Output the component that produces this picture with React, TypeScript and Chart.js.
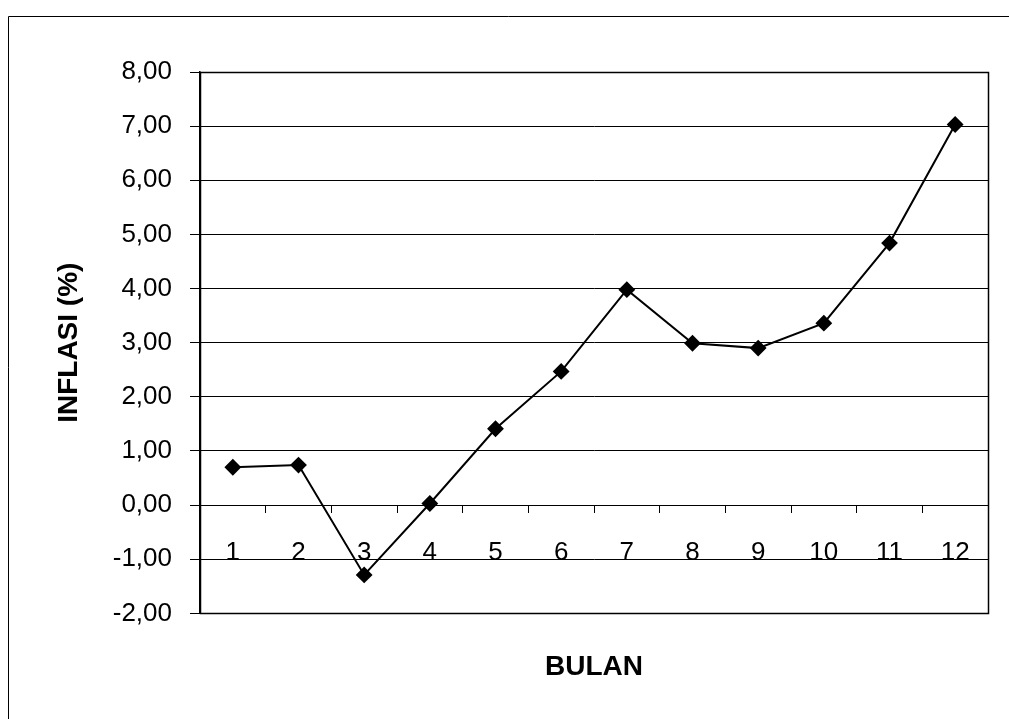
import React, { useEffect, useRef } from "react";
import { Chart, registerables } from "chart.js";

Chart.register(...registerables);

const months: string[] = ["1", "2", "3", "4", "5", "6", "7", "8", "9", "10", "11", "12"];
const inflation: number[] = [0.7, 0.74, -1.29, 0.03, 1.41, 2.47, 3.98, 2.99, 2.9, 3.36, 4.84, 7.03];
const yMin = -2;
const yMax = 8;
const yStep = 1;
const yTitle = "INFLASI (%)";
const xTitle = "BULAN";

const FONT = "'Liberation Sans', Arial, sans-serif";

const framePlugin = {
  id: "frame",
  beforeDraw(chart: any) {
    const { ctx } = chart;
    ctx.save();
    ctx.strokeStyle = "#000";
    ctx.lineWidth = 1;
    ctx.beginPath();
    ctx.moveTo(8.5, 719);
    ctx.lineTo(8.5, 16.5);
    ctx.lineTo(1009, 16.5);
    ctx.stroke();
    ctx.restore();
  },
  beforeDatasetsDraw(chart: any) {
    const { ctx, chartArea } = chart;
    ctx.save();
    ctx.strokeStyle = "#000";
    ctx.lineWidth = 1.5;
    ctx.strokeRect(
      Math.round(chartArea.left) + 0.5,
      Math.round(chartArea.top) + 0.5,
      Math.round(chartArea.right - chartArea.left),
      Math.round(chartArea.bottom - chartArea.top)
    );
    ctx.restore();
  },
};

export default function App() {
  const ref = useRef<HTMLCanvasElement | null>(null);

  useEffect(() => {
    if (!ref.current) return;
    const chart = new Chart(ref.current, {
      type: "line",
      data: {
        labels: months,
        datasets: [
          {
            data: inflation,
            borderColor: "#000",
            backgroundColor: "#000",
            borderWidth: 2,
            pointStyle: "rectRot",
            pointRadius: 7,
            pointHoverRadius: 7,
            pointBackgroundColor: "#000",
            pointBorderColor: "#000",
            tension: 0,
          },
        ],
      },
      options: {
        responsive: false,
        animation: false,
        devicePixelRatio: 1,
        layout: { padding: { top: 72, right: 21, bottom: 0, left: 0 } },
        plugins: {
          legend: { display: false },
          tooltip: { enabled: false },
          title: {
            display: true,
            text: xTitle,
            position: "bottom",
            fullSize: false,
            color: "#000",
            font: { family: FONT, size: 28, weight: "bold" },
            padding: { top: 37, bottom: 35 },
          },
        },
        scales: {
          x: {
            type: "category",
            position: { y: 0 } as any,
            offset: true,
            grid: {
              display: true,
              offset: true,
              drawOnChartArea: false,
              drawTicks: true,
              tickLength: 7,
              color: "#000",
            },
            border: { display: true, color: "#000", width: 1 },
            ticks: {
              color: "#000",
              padding: 25,
              font: { family: FONT, size: 26 },
              maxRotation: 0,
              autoSkip: false,
            },
          },
          y: {
            min: yMin,
            max: yMax,
            position: "left",
            afterFit(scale: any) {
              scale.width = 200;
            },
            grid: {
              color: "#000",
              lineWidth: 1,
              tickLength: 10,
              drawTicks: true,
            },
            border: { display: true, color: "#000", width: 1.5 },
            ticks: {
              stepSize: yStep,
              color: "#000",
              padding: 18,
              font: { family: FONT, size: 26 },
              callback: (v: any) => Number(v).toFixed(2).replace(".", ","),
            },
            title: {
              display: true,
              text: yTitle,
              color: "#000",
              font: { family: FONT, size: 28, weight: "bold" },
              padding: { top: 52, bottom: 0 },
            },
          },
        },
      },
      plugins: [framePlugin],
    });
    return () => chart.destroy();
  }, []);

  return (
    <div style={{ position: "fixed", left: 0, top: 0, width: 1009, height: 719, background: "#fff" }}>
      <canvas ref={ref} width={1009} height={719} style={{ display: "block" }} />
    </div>
  );
}
